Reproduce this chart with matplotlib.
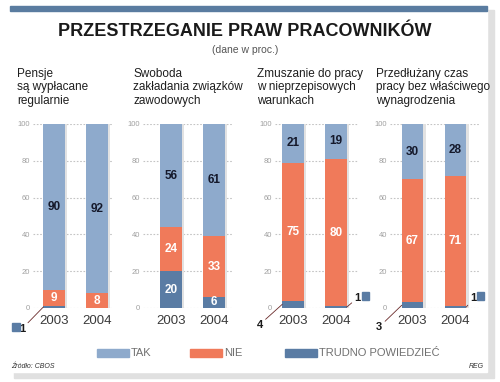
import matplotlib
matplotlib.use("Agg")
import matplotlib.pyplot as plt
from matplotlib import font_manager
from matplotlib.patches import Rectangle

# dane (w proc.)
panels = [
    "Pensje\nsą wypłacane\nregularnie",
    "Swoboda\nzakładania związków\nzawodowych",
    "Zmuszanie do pracy\nw nieprzepisowych\nwarunkach",
    "Przedłużany czas\npracy bez właściwego\nwynagrodzenia",
]
years = ["2003", "2004"]
tak = [[90, 92], [56, 61], [21, 19], [30, 28]]
nie = [[9, 8], [24, 33], [75, 80], [67, 71]]
trudno = [[1, 0], [20, 6], [4, 1], [3, 1]]
series_names = ["TAK", "NIE", "TRUDNO POWIEDZIEĆ"]

C_TAK = "#8eaacc"
C_NIE = "#f07a5a"
C_TR = "#5a7ca4"

names = {f.name for f in font_manager.fontManager.ttflist}
BASE = "Liberation Sans" if "Liberation Sans" in names else "DejaVu Sans"
plt.rcParams["font.family"] = [BASE, "DejaVu Sans"]

W, H = 500, 382
fig = plt.figure(figsize=(W / 100, H / 100), dpi=100)
fig.patch.set_facecolor("white")


def fx(px):
    return px / W


def fy(py):
    return 1 - py / H


# card with shadow + top stripe
fig.patches.append(Rectangle((fx(14), fy(378)), fx(480), fy(10) - fy(378),
                             transform=fig.transFigure, color="#e0e0e0", zorder=-3))
fig.patches.append(Rectangle((fx(10), fy(372)), fx(477), fy(6) - fy(372),
                             transform=fig.transFigure, color="white", zorder=-2))
fig.patches.append(Rectangle((fx(10), fy(10.5)), fx(477), fy(5.5) - fy(10.5),
                             transform=fig.transFigure, color="#5a7ca0", zorder=-1))

fig.text(fx(245), fy(32), "PRZESTRZEGANIE PRAW PRACOWNIKÓW",
         fontsize=13, fontweight="bold", color="#1a1a1a",
         ha="center", va="center")
fig.text(fx(245), fy(50), "(dane w proc.)", fontsize=7.5, color="#555555",
         ha="center", va="center")

title_x = [17, 133, 257, 376]
centers = [54, 171, 293, 412.5]
grid_l = [33, 143, 275, 390]
grid_r = [112, 233, 358, 480]
unit = 43.0
bw = 0.5
y_top, y_bot = 124, 308

axes = []
for i in range(4):
    fig.text(fx(title_x[i]), fy(68), panels[i], fontsize=8.5, color="#1e1e1e",
             ha="left", va="top", linespacing=1.15)
    ax = fig.add_axes([fx(grid_l[i]), fy(y_bot), fx(grid_r[i] - grid_l[i]), fy(y_top) - fy(y_bot)])
    ax.set_xlim((grid_l[i] - centers[i]) / unit, (grid_r[i] - centers[i]) / unit)
    ax.set_ylim(0, 100)
    ax.patch.set_alpha(0)
    for s in ax.spines.values():
        s.set_visible(False)
    ax.set_yticks(range(0, 101, 20))
    ax.yaxis.grid(True, linestyle=(0, (1.5, 1.5)), color="#c4c4c4", lw=0.8)
    ax.set_axisbelow(True)
    ax.tick_params(axis="y", length=0, pad=2, labelsize=5.5, labelcolor="#a0a0a0")
    ax.set_xticks([0, 1])
    ax.set_xticklabels(years)
    ax.tick_params(axis="x", length=0, pad=5, labelsize=9.5, labelcolor="#3a3a3a")

    x = [0, 1]
    t, n, r = tak[i], nie[i], trudno[i]
    # shadow
    ax.bar([v + 0.06 for v in x], [100, 100], bw, color="#e2e2e2", zorder=1)
    ax.bar(x, r, bw, color=C_TR, zorder=2)
    ax.bar(x, n, bw, bottom=r, color=C_NIE, zorder=2)
    ax.bar(x, t, bw, bottom=[a + b for a, b in zip(r, n)], color=C_TAK, zorder=2)
    for j in range(2):
        ax.text(j, r[j] + n[j] + t[j] / 2, str(t[j]), ha="center", va="center",
                fontsize=8.5, fontweight="bold", color="#15192b", zorder=3)
        ax.text(j, r[j] + n[j] / 2, str(n[j]), ha="center", va="center",
                fontsize=8.5, fontweight="bold", color="white", zorder=3)
        if r[j] >= 5:
            ax.text(j, r[j] / 2, str(r[j]), ha="center", va="center",
                    fontsize=8.5, fontweight="bold", color="white", zorder=3)
    axes.append(ax)

ann = dict(fontsize=8, fontweight="bold", color="#1a1a1a", annotation_clip=False,
           arrowprops=dict(arrowstyle="-", color="#6a2a2a", lw=0.6, shrinkA=0, shrinkB=0))


def small_left(ax, j, val, dx, dy):
    ax.annotate(str(val), xy=(j - bw / 2, val / 2), xytext=(dx, dy),
                textcoords="offset points", ha="right", va="top", **ann)


def small_right(ax, j, val, dx, dy):
    ax.annotate(str(val), xy=(j + bw / 2, val / 2), xytext=(dx, dy),
                textcoords="offset points", ha="right", va="bottom", **ann)


# panel 1: 2003 "1" with square marker
small_left(axes[0], 0, trudno[0][0], -13, -12)
fig.patches.append(Rectangle((fx(12), fy(331)), fx(8), fy(323) - fy(331),
                             transform=fig.transFigure, color=C_TR, zorder=3))
# panel 3
small_left(axes[2], 0, trudno[2][0], -14, -11)
small_right(axes[2], 1, trudno[2][1], 10, 3)
fig.patches.append(Rectangle((fx(362), fy(300)), fx(7), fy(292) - fy(300),
                             transform=fig.transFigure, color=C_TR, zorder=3))
# panel 4
small_left(axes[3], 0, trudno[3][0], -14, -12)
small_right(axes[3], 1, trudno[3][1], 7.5, 3)
fig.patches.append(Rectangle((fx(477), fy(300)), fx(7), fy(292) - fy(300),
                             transform=fig.transFigure, color=C_TR, zorder=3))

# legend
leg_x = [97, 190, 285]
for lx, name, c in zip(leg_x, series_names, [C_TAK, C_NIE, C_TR]):
    fig.patches.append(Rectangle((fx(lx), fy(357)), fx(32), fy(349) - fy(357),
                                 transform=fig.transFigure, color=c, zorder=3))
    fig.text(fx(lx + 34), fy(353), name, fontsize=8, color="#707070",
             ha="left", va="center")

fig.text(fx(11), fy(366), "Źródło: CBOS", fontsize=5, style="italic", color="#333333",
         ha="left", va="center")
fig.text(fx(484), fy(366), "REG", fontsize=5, style="italic", color="#333333",
         ha="right", va="center")

fig.savefig("out.png", dpi=100, facecolor="white")
